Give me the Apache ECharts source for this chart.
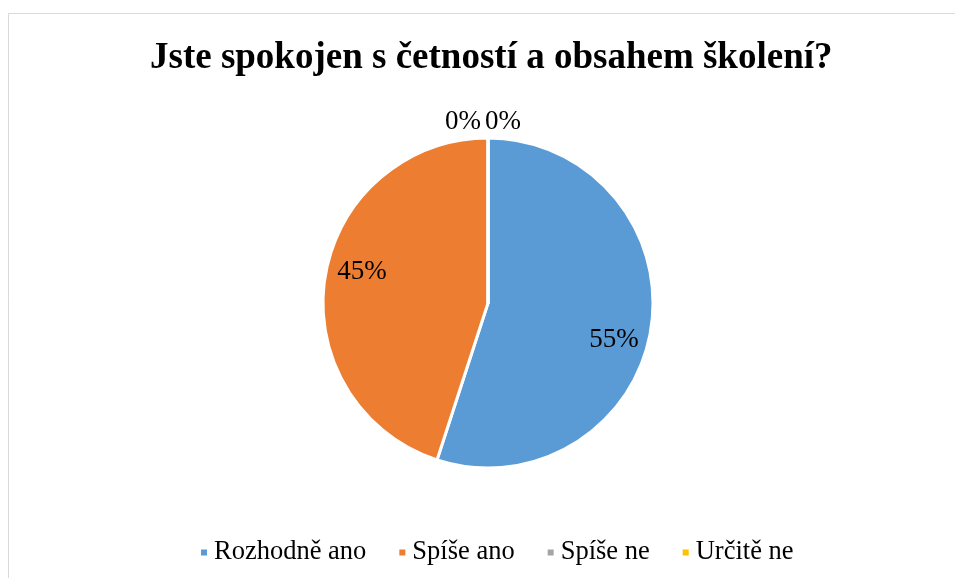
<!DOCTYPE html>
<html>
<head>
<meta charset="utf-8">
<script src="https://cdn.jsdelivr.net/npm/echarts@6/dist/echarts.min.js"></script>
<style>
  html, body { margin: 0; padding: 0; background: #fff; }
  #chart { width: 955px; height: 578px; }
</style>
</head>
<body>
<div id="chart"></div>
<script>
// odpovědi a podíly
var answers = ['Rozhodně ano', 'Spíše ano', 'Spíše ne', 'Určitě ne'];
var shares = [55, 45, 0, 0];
var colors = ['#5B9BD5', '#ED7D31', '#A5A5A5', '#FFC000'];

var serif = '"Liberation Serif", "Times New Roman", serif';

var chart = echarts.init(document.getElementById('chart'));

// hlavní koláč - popisky jen pro nulové hodnoty (venku nahoře)
var mainData = answers.map(function (name, i) {
  return {
    name: name,
    value: shares[i],
    label: { show: shares[i] === 0 }
  };
});
// průhledná vrstva jen kvůli umístění vnitřních popisků
var labelData = answers.map(function (name, i) {
  return {
    name: name,
    value: shares[i],
    label: { show: shares[i] !== 0 }
  };
});

var option = {
  color: colors,
  animation: false,
  title: {
    text: 'Jste spokojen s četností a obsahem školení?',
    left: 145,
    top: 35,
    textStyle: {
      fontFamily: serif,
      fontSize: 37,
      fontWeight: 'bold',
      color: '#000'
    }
  },
  legend: {
    data: answers,
    bottom: 7,
    left: 194,
    icon: 'rect',
    itemWidth: 8,
    itemHeight: 8,
    itemGap: 31,
    textStyle: {
      fontFamily: serif,
      fontSize: 26.5,
      color: '#000',
      padding: [0, 0, 0, 1]
    }
  },
  graphic: [{
    type: 'rect',
    shape: { x: 8.5, y: 13.5, width: 960, height: 600 },
    style: { fill: 'none', stroke: '#d9d9d9', lineWidth: 1 },
    silent: true
  }],
  series: [
    {
      name: 'hlavni',
      type: 'pie',
      center: [488, 303],
      radius: [0, 165],
      startAngle: 90,
      avoidLabelOverlap: false,
      stillShowZeroSum: true,
      itemStyle: { borderColor: '#fff', borderWidth: 3 },
      label: {
        position: 'outside',
        formatter: '{d}%',
        fontFamily: serif,
        fontSize: 27,
        color: '#000'
      },
      labelLine: { show: false, length: 2, length2: 0 },
      labelLayout: function (params) {
        if (params.dataIndex === 2) return { dx: -2, dy: -14 };
        if (params.dataIndex === 3) return { dx: 38, dy: -14 };
        return {};
      },
      emphasis: { disabled: true },
      data: mainData
    },
    {
      name: 'popisky',
      type: 'pie',
      center: [488, 306],
      radius: [90, 165],
      startAngle: 84,
      silent: true,
      avoidLabelOverlap: false,
      itemStyle: { color: 'rgba(0,0,0,0)', borderWidth: 0 },
      label: {
        position: 'inside',
        formatter: '{d}%',
        fontFamily: serif,
        fontSize: 27,
        color: '#000'
      },
      labelLine: { show: false },
      emphasis: { disabled: true },
      data: labelData
    }
  ]
};

chart.setOption(option);
</script>
</body>
</html>
